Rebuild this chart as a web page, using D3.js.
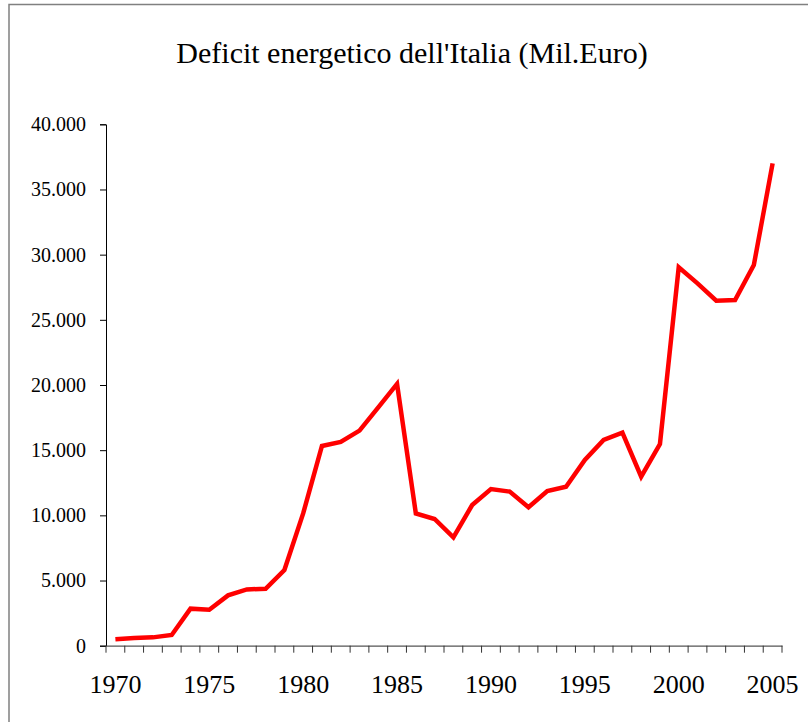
<!DOCTYPE html>
<html><head><meta charset="utf-8">
<script src="https://cdn.jsdelivr.net/npm/d3@7"></script>
<style>html,body{margin:0;padding:0;background:#fff;}svg{display:block;}</style>
</head><body>
<svg id="chart" width="808" height="722"></svg>
<script>
const years = d3.range(1970, 2006).map(String);
const deficit = [490, 590, 640, 820, 2840, 2760, 3860, 4320, 4370, 5810,
  10150, 15320, 15630, 16500, 18290, 20080, 10150, 9720, 8310, 10790,
  12020, 11820, 10620, 11870, 12200, 14250, 15780, 16340, 12970, 15470,
  29030, 27800, 26470, 26520, 29200, 37000];
const yTicks = [0, 5000, 10000, 15000, 20000, 25000, 30000, 35000, 40000];
const xLabelYears = ["1970","1975","1980","1985","1990","1995","2000","2005"];
const title = "Deficit energetico dell'Italia (Mil.Euro)";

const svg = d3.select("#chart");
const font = "'Liberation Serif','Times New Roman',serif";
const m = {left: 106, right: 782, top: 124.3, bottom: 645.7};

svg.append("rect").attr("x", 9).attr("y", 4.5).attr("width", 900).attr("height", 900)
  .attr("fill", "none").attr("stroke", "#808080").attr("stroke-width", 1.5);

svg.append("text").attr("x", 412).attr("y", 63).attr("text-anchor", "middle")
  .attr("font-family", font).attr("font-size", 30).attr("fill", "#000").text(title);

const x = d3.scaleBand().domain(years).range([m.left, m.right]);
const y = d3.scaleLinear().domain([0, 40000]).range([m.bottom, m.top]);
const fmt = v => d3.format(",")(v).replace(/,/g, ".");

const yAxis = svg.append("g").attr("transform", `translate(${m.left},0)`)
  .call(d3.axisLeft(y).tickValues(yTicks).tickSize(6).tickPadding(14).tickFormat(fmt));
yAxis.select(".domain").attr("stroke", "#000").attr("stroke-width", 1);
yAxis.selectAll(".tick line").attr("stroke", "#000");
yAxis.selectAll("text").attr("font-family", font).attr("font-size", 20).attr("fill", "#000");

const xAxis = svg.append("g").attr("transform", `translate(0,${m.bottom})`)
  .call(d3.axisBottom(x).tickValues([]).tickSizeOuter(0));
xAxis.select(".domain").attr("stroke", "#555").attr("stroke-width", 1.2);
// tick marks at band boundaries
xAxis.selectAll("line.bt").data(years.concat(["end"])).enter().append("line")
  .attr("class", "bt")
  .attr("x1", (d, i) => i < years.length ? x(d) : x(years[years.length-1]) + x.bandwidth())
  .attr("x2", (d, i) => i < years.length ? x(d) : x(years[years.length-1]) + x.bandwidth())
  .attr("y1", 0).attr("y2", 7).attr("stroke", "#333").attr("stroke-width", 1);
xAxis.selectAll("text.lbl").data(xLabelYears).enter().append("text")
  .attr("class", "lbl")
  .attr("x", d => x(d) + x.bandwidth() / 2).attr("y", 47)
  .attr("text-anchor", "middle").attr("font-family", font).attr("font-size", 26)
  .attr("fill", "#000").text(d => d);

const line = d3.line().x((d, i) => x(years[i]) + x.bandwidth() / 2).y(d => y(d));
svg.append("path").datum(deficit).attr("d", line).attr("fill", "none")
  .attr("stroke", "#ff0000").attr("stroke-width", 4.5).attr("stroke-linejoin", "miter");
</script>
</body></html>
